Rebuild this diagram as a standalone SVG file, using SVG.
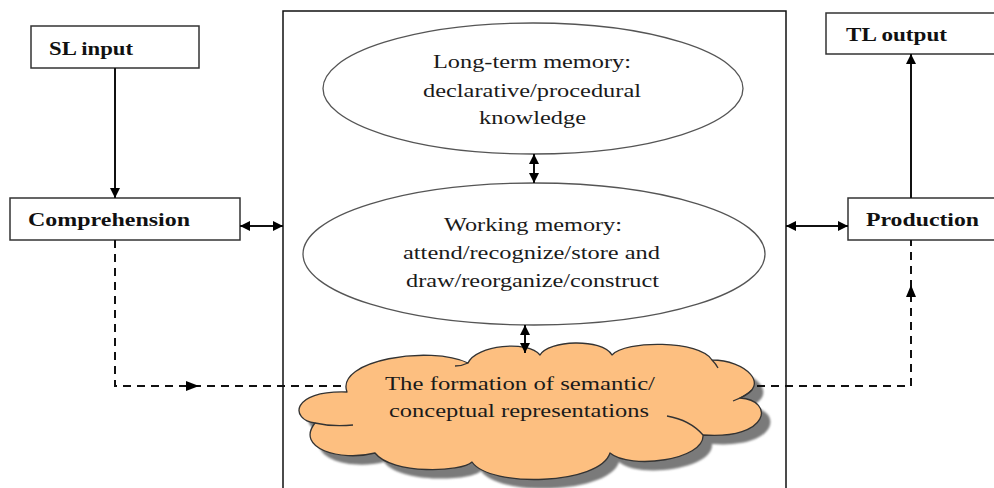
<svg xmlns="http://www.w3.org/2000/svg" width="994" height="488" viewBox="0 0 994 488">
<style>
.box{fill:#fff;stroke:#333;stroke-width:1.5}
.ell{fill:#fff;stroke:#555;stroke-width:1.3}
.lbl{font-family:"Liberation Serif","Times New Roman",serif;font-weight:bold;font-size:18px;fill:#111}
.txt{font-family:"Liberation Serif","Times New Roman",serif;font-size:18px;fill:#1a1a1a}
.ln{fill:none;stroke:#111;stroke-width:2}
.dash{fill:none;stroke:#111;stroke-width:2;stroke-dasharray:8 6}
.cloud{fill:#FDBF80;stroke:#333;stroke-width:1.3;stroke-linejoin:round}
.crease{fill:none;stroke:#333;stroke-width:1.3}
</style>
<defs>
<marker id="ah" viewBox="0 0 10 10" refX="10" refY="5" markerWidth="11" markerHeight="10" orient="auto-start-reverse" markerUnits="userSpaceOnUse">
<path d="M0,0 L10,5 L0,10 z" fill="#000"/>
</marker>
<filter id="blur" x="-5%" y="-5%" width="110%" height="110%"><feGaussianBlur stdDeviation="1.2"/></filter>
<path id="cloudShape" d="M347,392 C335,360 430,345 468,363 C476,345 528,340 540,355 C548,340 602,338 612,355 C625,340 700,340 712,360 C745,360 772,385 740,398 C775,400 770,440 703,435 C705,460 630,470 610,453 C600,485 490,488 472,462 C462,472 392,475 375,453 C340,462 295,448 315,423 C290,420 290,390 347,392 Z"/>
</defs>
<rect width="994" height="488" fill="#fff"/>

<g id="center-box">
<rect x="283" y="11" width="503" height="490" fill="none" stroke="#111" stroke-width="1.5"/>
</g>

<g id="sl-input">
<rect class="box" x="31" y="26" width="168" height="42"/>
<text class="lbl" x="49" y="55" textLength="84" lengthAdjust="spacingAndGlyphs">SL input</text>
</g>

<g id="comprehension">
<rect class="box" x="10" y="198" width="230" height="42"/>
<text class="lbl" x="28" y="226" textLength="162" lengthAdjust="spacingAndGlyphs">Comprehension</text>
</g>

<g id="tl-output">
<rect class="box" x="826" y="13" width="172" height="41"/>
<text class="lbl" x="846" y="41" textLength="101" lengthAdjust="spacingAndGlyphs">TL output</text>
</g>

<g id="production">
<rect class="box" x="848" y="198" width="150" height="42"/>
<text class="lbl" x="866" y="226" textLength="113" lengthAdjust="spacingAndGlyphs">Production</text>
</g>

<g id="long-term-memory">
<ellipse class="ell" cx="533" cy="88.5" rx="210" ry="65.5"/>
<text class="txt" x="433" y="68" textLength="198" lengthAdjust="spacingAndGlyphs">Long-term memory:</text>
<text class="txt" x="423" y="97" textLength="218" lengthAdjust="spacingAndGlyphs">declarative/procedural</text>
<text class="txt" x="479" y="124" textLength="107" lengthAdjust="spacingAndGlyphs">knowledge</text>
</g>

<g id="working-memory">
<ellipse class="ell" cx="534" cy="254" rx="231" ry="71"/>
<text class="txt" x="444" y="231" textLength="178" lengthAdjust="spacingAndGlyphs">Working memory:</text>
<text class="txt" x="403" y="259" textLength="257" lengthAdjust="spacingAndGlyphs">attend/recognize/store and</text>
<text class="txt" x="406" y="287" textLength="253" lengthAdjust="spacingAndGlyphs">draw/reorganize/construct</text>
</g>

<g id="semantic-cloud">
<use href="#cloudShape" transform="translate(9,9)" fill="#7a7a7a" filter="url(#blur)"/>
<use href="#cloudShape" class="cloud"/>
<path class="crease" d="M315,423 Q332,427 353,425"/>
<path class="crease" d="M752,390 Q744,397 733,401"/>
<path class="crease" d="M703,435 Q690,420 667,416"/>
<path class="crease" d="M468,363 Q462,366 455,366"/>
<path class="crease" d="M712,360 Q716,364 718,368"/>
<text class="txt" x="385" y="390" textLength="270" lengthAdjust="spacingAndGlyphs">The formation of semantic/</text>
<text class="txt" x="389" y="417" textLength="260" lengthAdjust="spacingAndGlyphs">conceptual representations</text>
</g>

<g id="connectors">
<line class="ln" x1="115" y1="68" x2="115" y2="198" marker-end="url(#ah)"/>
<line class="ln" x1="240" y1="226" x2="283" y2="226" marker-start="url(#ah)" marker-end="url(#ah)"/>
<line class="ln" x1="786" y1="226" x2="848" y2="226" marker-start="url(#ah)" marker-end="url(#ah)"/>
<line class="ln" x1="911" y1="198" x2="911" y2="54" marker-end="url(#ah)"/>
<line class="ln" x1="534" y1="154" x2="534" y2="183" marker-start="url(#ah)" marker-end="url(#ah)"/>
<line class="ln" x1="525" y1="325" x2="525" y2="353" marker-start="url(#ah)" marker-end="url(#ah)"/>
<path class="dash" d="M115,240 V386 H345"/>
<polygon points="186,381 199,386 186,391" fill="#000"/>
<path class="dash" d="M757,386 H911 V240"/>
<polygon points="906,297 911,285 916,297" fill="#000"/>
</g>
</svg>
